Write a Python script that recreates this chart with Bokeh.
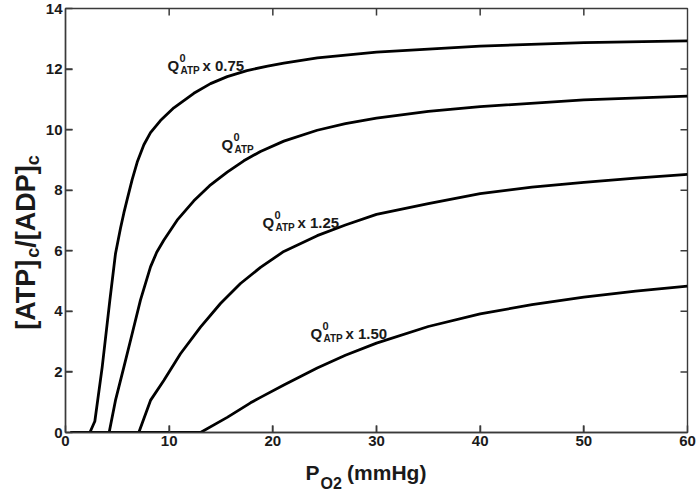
import math
from bokeh.plotting import figure
from bokeh.models import Range1d, FixedTicker, Label
from bokeh.layouts import row, column
from bokeh.core.properties import value
from bokeh.embed import file_html
from bokeh.resources import INLINE

# ---------------- data ----------------
x_ticks = [0, 10, 20, 30, 40, 50, 60]
y_ticks = [0, 2, 4, 6, 8, 10, 12, 14]
X_MIN, X_MAX = 0, 60
Y_MIN, Y_MAX = 0, 14

po2_a = [0.5, 2.35, 2.83, 3.54, 4.28, 4.82, 5.31, 5.63, 5.95, 6.43, 6.92, 7.56, 8.2, 9.16, 10.45,
         12.38, 13.99, 15.6, 17.5, 19.5, 21.06, 24.3, 30, 40, 50, 60]
ratio_a = [0, 0, 0.37, 2.16, 4.37, 5.9, 6.75, 7.25, 7.7, 8.35, 8.93, 9.5, 9.9, 10.3, 10.72,
           11.2, 11.52, 11.75, 11.95, 12.1, 12.2, 12.37, 12.56, 12.76, 12.87, 12.93]

po2_b = [0.5, 4.21, 4.82, 5.63, 6.43, 7.23, 8.2, 8.8, 9.48, 10.77, 12.38, 13.9, 15.6, 17.2, 18.81,
         21.06, 24.28, 27, 30, 35, 40, 50, 60]
ratio_b = [0, 0, 1.06, 2.16, 3.26, 4.37, 5.47, 5.95, 6.35, 7.01, 7.65, 8.15, 8.6, 8.97, 9.28,
           9.62, 9.98, 10.2, 10.38, 10.6, 10.76, 10.98, 11.11]

po2_c = [0.5, 7.07, 8.2, 9.48, 11.09, 13.02, 14.95, 16.88, 18.81, 21.06, 24.28, 27, 30, 35, 40, 45, 50, 55, 60]
ratio_c = [0, 0, 1.06, 1.72, 2.6, 3.48, 4.26, 4.92, 5.45, 5.98, 6.5, 6.85, 7.2, 7.56, 7.89, 8.1, 8.26, 8.4, 8.52]

po2_d = [0.5, 13.02, 15.6, 17.85, 18.81, 21.06, 24.28, 27, 30, 35, 40, 45, 50, 55, 60]
ratio_d = [0, 0, 0.5, 0.98, 1.16, 1.57, 2.13, 2.55, 2.95, 3.5, 3.92, 4.22, 4.47, 4.67, 4.83]

# curve labels: anchor (x, y) in data units, and multiplier text
label_pos = [(9.84, 12.12), (15.05, 9.52), (19.0, 6.94), (23.63, 3.28)]
label_suffix = [" x 0.75", "", " x 1.25", " x 1.50"]

# ---------------- styling ----------------
FONT = "Liberation Sans"
INK = "#1a1a1a"
AX = "#3a3a3a"

TOTAL_W, TOTAL_H = 698, 491
YT_W = 42          # width of the strip holding the y title
XT_H = 36          # height of the strip holding the x title
MAIN_W = TOTAL_W - YT_W
MAIN_H = TOTAL_H - XT_H
FRAME_L, FRAME_R, FRAME_T, FRAME_B = 65, 687, 8, 432   # page pixels of the plot box
TICK = 7

p = figure(width=MAIN_W, height=MAIN_H, x_range=Range1d(X_MIN, X_MAX), y_range=Range1d(Y_MIN, Y_MAX),
           output_backend="svg", toolbar_location=None,
           min_border_left=FRAME_L - YT_W, min_border_right=TOTAL_W - FRAME_R,
           min_border_top=FRAME_T, min_border_bottom=MAIN_H - FRAME_B)
p.background_fill_color = "white"
p.border_fill_color = "white"
p.outline_line_color = AX
p.outline_line_width = 1.4
p.xgrid.grid_line_color = None
p.ygrid.grid_line_color = None


def style_axis(ax, ticks, standoff):
    ax.ticker = FixedTicker(ticks=ticks)
    ax.major_tick_in = TICK
    ax.major_tick_out = 0
    ax.minor_tick_line_color = None
    ax.axis_line_color = AX
    ax.axis_line_width = 1.4
    ax.major_tick_line_color = AX
    ax.major_tick_line_width = 1.5
    ax.major_label_text_font = FONT
    ax.major_label_text_font_style = "bold"
    ax.major_label_text_color = INK
    ax.major_label_text_font_size = "15px"
    ax.major_label_standoff = standoff


style_axis(p.xaxis[0], x_ticks, 3)
style_axis(p.yaxis[0], y_ticks, 3)

# inward ticks on all four edges of the box (tick length converted to data units)
dx = TICK * (X_MAX - X_MIN) / (FRAME_R - FRAME_L)
dy = TICK * (Y_MAX - Y_MIN) / (FRAME_B - FRAME_T)
in_x = x_ticks[1:-1]
in_y = y_ticks[1:-1]
nx, ny = len(in_x), len(in_y)
p.segment(x0=in_x, y0=[Y_MAX] * nx, x1=in_x, y1=[Y_MAX - dy] * nx, line_color=AX, line_width=1.5)
p.segment(x0=in_x, y0=[Y_MIN] * nx, x1=in_x, y1=[Y_MIN + dy] * nx, line_color=AX, line_width=1.5)
p.segment(x0=[X_MAX] * ny, y0=in_y, x1=[X_MAX - dx] * ny, y1=in_y, line_color=AX, line_width=1.5)
p.segment(x0=[X_MIN] * ny, y0=in_y, x1=[X_MIN + dx] * ny, y1=in_y, line_color=AX, line_width=1.5)

for xs, ys in [(po2_a, ratio_a), (po2_b, ratio_b), (po2_c, ratio_c), (po2_d, ratio_d)]:
    p.line(xs, ys, line_color="black", line_width=2.8, line_join="round")


def lab(x, y, text, size, xo=0, yo=0):
    p.add_layout(Label(x=x, y=y, x_offset=xo, y_offset=yo, text=text,
                       text_font=FONT, text_font_style="bold", text_font_size=size,
                       text_color=INK, text_align="left", text_baseline="alphabetic"))


# curve annotations: Q^0_ATP (x factor)
for (lx, ly), suf in zip(label_pos, label_suffix):
    lab(lx, ly, "Q", "15px")
    lab(lx, ly, "0", "11px", xo=12, yo=7)
    lab(lx, ly, "ATP", "10px", xo=13, yo=-5)
    if suf:
        lab(lx, ly, suf, "15px", xo=35)


def strip(w, h):
    f = figure(width=w, height=h, x_range=Range1d(0, w), y_range=Range1d(0, h),
               output_backend="svg", toolbar_location=None,
               x_axis_location=None, y_axis_location=None, min_border=0)
    f.outline_line_color = None
    f.grid.visible = False
    f.background_fill_color = "white"
    f.border_fill_color = "white"
    return f


def put(f, x, y, text, size, angle=0.0):
    f.text(x=[x], y=[y], text=[text], angle=angle,
           text_font=value(FONT), text_font_style="bold", text_font_size=value(size),
           text_color=INK, text_align="left", text_baseline="alphabetic")


# x title strip: page coords (px, py) -> (px - YT_W, TOTAL_H - py)
xt = strip(MAIN_W, XT_H)
put(xt, 295 - YT_W, TOTAL_H - 472, "P", "21px")
put(xt, 311 - YT_W, TOTAL_H - 483, "O2", "16px")
put(xt, 339 - YT_W, TOTAL_H - 472, "(mmHg)", "21px")

# y title strip (rotated): page coords (px, py) -> (px, TOTAL_H - py)
yt = strip(YT_W, TOTAL_H)
W = {'[': 333, ']': 333, 'A': 722, 'T': 611, 'P': 667, '/': 278, 'D': 722, 'c': 556}


def tw(s, size):
    return sum(W[ch] for ch in s) * size / 1000.0


main_sz, sub_sz = 27, 18
pieces = [("[ATP]", main_sz, 0), ("c", sub_sz, 7), ("/[ADP]", main_sz, 0), ("c", sub_sz, 7)]
total = sum(tw(s, sz) for s, sz, _ in pieces)
pos = 242 + total / 2.0   # page y where the text starts (bottom end)
base_x = 25               # page x of the baseline
for s, sz, shift in pieces:
    put(yt, base_x + shift, TOTAL_H - pos, s, f"{sz}px", angle=math.pi / 2)
    pos -= tw(s, sz)

layout = row(yt, column(p, xt))
open("out.html", "w").write(file_html(layout, INLINE))
